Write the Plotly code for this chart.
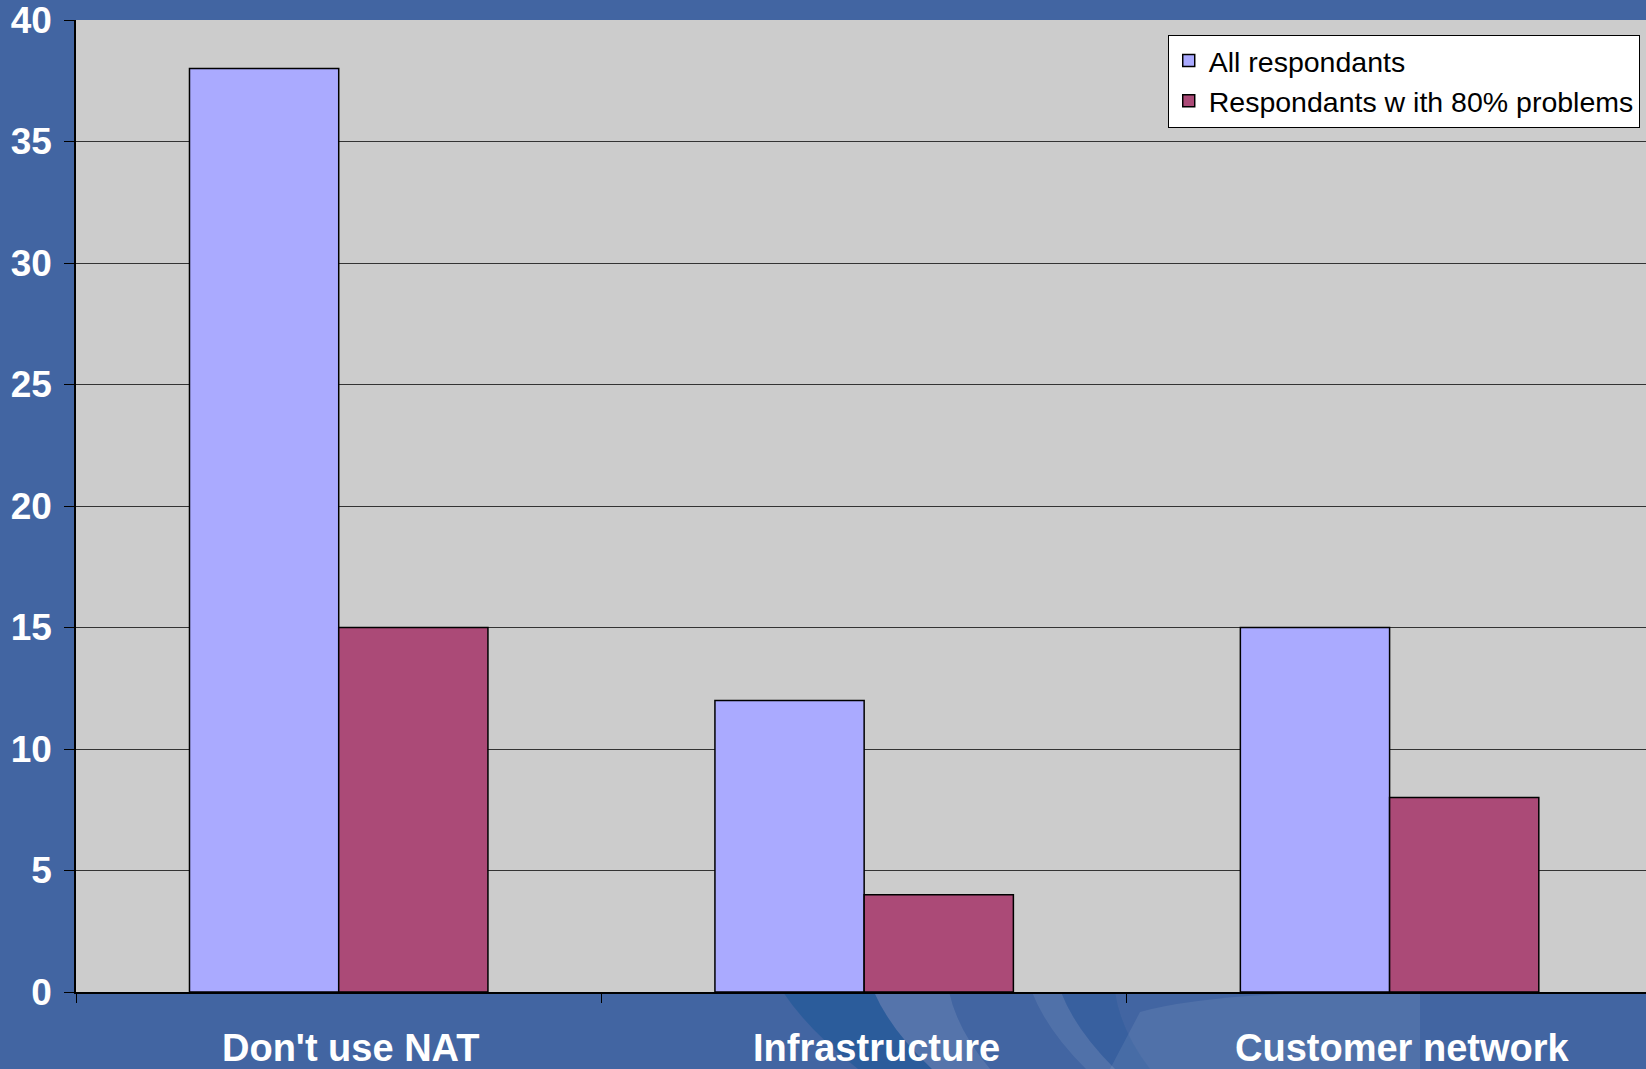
import plotly.graph_objects as go

categories = ["Don't use NAT", "Infrastructure", "Customer network"]
all_respondants = [38, 12, 15]
respondants_80pct = [15, 4, 8]
series_names = ["All respondants", "Respondants w ith 80% problems"]

BG_BLUE = "#4265A2"
PLOT_GRAY = "#CCCCCC"

# pixel frame of the plotting area inside the 1646x1069 page
W, H = 1646, 1069
L, T, B = 76, 20, 77
PW, PH = W - L, H - T - B


def px(x, y):
    """Convert page pixels to paper coordinates."""
    return (x - L) / PW, (H - B - y) / PH


def band(tl, tr, br, bl, bend=12):
    """Curved diagonal band between four page-pixel corners."""
    p = [px(*tl), px(*tr), px(*br), px(*bl)]
    c1 = px((tr[0] + br[0]) / 2 - bend, (tr[1] + br[1]) / 2)
    c2 = px((bl[0] + tl[0]) / 2 - bend, (bl[1] + tl[1]) / 2)
    f = lambda q: f"{q[0]:.4f},{q[1]:.4f}"
    return (f"M {f(p[0])} L {f(p[1])} Q {f(c1)} {f(p[2])} "
            f"L {f(p[3])} Q {f(c2)} {f(p[0])} Z")


def arc_region():
    f = lambda q: f"{q[0]:.4f},{q[1]:.4f}"
    a, b, c = px(1110, 1069), px(1140, 1012), px(1420, 992)
    ctrl = px(1220, 990)
    d, e = px(1420, 1069), px(1420, 1069)
    return f"M {f(a)} L {f(b)} Q {f(ctrl)} {f(c)} L {f(d)} L {f(e)} Z"


fig = go.Figure()
fig.add_trace(go.Bar(
    x=categories, y=all_respondants, name=series_names[0], legendgroup="a",
    marker=dict(color="#AAAAFF", line=dict(color="#000000", width=1.5)),
))
fig.add_trace(go.Bar(
    x=categories, y=respondants_80pct, name=series_names[1], legendgroup="b",
    marker=dict(color="#AB4A77", line=dict(color="#000000", width=1.5)),
))

# decorative swoosh in the slide background under the axis
swoosh = [
    (band((783, 992), (874, 992), (932, 1069), (858, 1069)), "#1A5596", 0.55),
    (band((874, 992), (949, 992), (990, 1069), (932, 1069)), "#FFFFFF", 0.10),
    (band((1032, 992), (1061, 992), (1115, 1069), (1086, 1069)), "#FFFFFF", 0.08),
    (band((1061, 992), (1115, 992), (1150, 1069), (1115, 1069)), "#1A5596", 0.25),
    (arc_region(), "#FFFFFF", 0.08),
]
shapes = [
    dict(type="path", path=p, xref="paper", yref="paper", fillcolor=c,
         opacity=o, line=dict(width=0), layer="below")
    for p, c, o in swoosh
]

# category labels sit well below the axis
annotations = [
    dict(x=cat, y=px(0, 1048)[1], xref="x", yref="paper", text=cat,
         showarrow=False, xanchor="center", yanchor="middle", xshift=12,
         font=dict(size=38, color="#FFFFFF", weight="bold"))
    for cat in categories
]

fig.update_layout(
    width=W, height=H,
    margin=dict(l=L, r=0, t=T, b=B),
    paper_bgcolor=BG_BLUE,
    plot_bgcolor=PLOT_GRAY,
    barmode="group",
    bargap=0.432,
    bargroupgap=0,
    font=dict(family="Liberation Sans, Arial, sans-serif"),
    legend=dict(
        x=0.996, y=0.985, xanchor="right", yanchor="top",
        bgcolor="#FFFFFF", bordercolor="#000000", borderwidth=1,
        font=dict(size=28.5, color="#000000"),
        tracegroupgap=6,
        traceorder="normal",
    ),
    showlegend=True,
    shapes=shapes,
    annotations=annotations,
)

fig.update_xaxes(
    range=[-0.5, 2.488],
    showline=True, linecolor="#000000", linewidth=1.5,
    ticks="outside", tickson="boundaries", ticklen=9, tickcolor="#000000",
    showticklabels=False,
    showgrid=False,
    automargin=False,
)
fig.update_yaxes(
    range=[0, 40], dtick=5,
    showline=True, linecolor="#000000", linewidth=1.5,
    ticks="outside", ticklen=10, tickcolor="#000000",
    tickfont=dict(size=37, color="#FFFFFF", weight="bold"),
    ticklabelstandoff=5,
    ticklabeloverflow="allow",
    showgrid=True, gridcolor="#333333", gridwidth=1,
    zeroline=False,
    automargin=False,
)

fig.write_html("out.html")
